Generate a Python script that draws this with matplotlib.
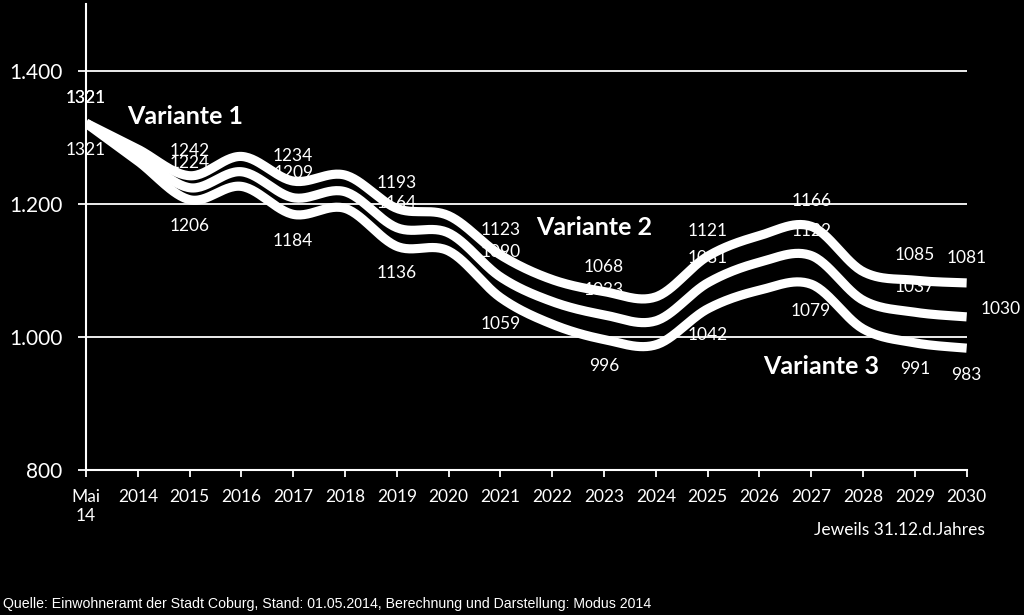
import numpy as np
import matplotlib
matplotlib.use("Agg")
import matplotlib.pyplot as plt
from matplotlib.ticker import FuncFormatter

# ── DATA ──────────────────────────────────────────────────────────────────────
YEARS = ['Mai\n14', '2014', '2015', '2016', '2017', '2018', '2019', '2020', '2021',
         '2022', '2023', '2024', '2025', '2026', '2027', '2028', '2029', '2030']

# Einwohner (even years estimated from the curve)
VARIANTE_1 = [1321, 1282, 1242, 1271, 1234, 1243, 1193, 1182, 1123,
              1086, 1068, 1060, 1121, 1152, 1166, 1098, 1085, 1081]
VARIANTE_2 = [1321, 1273, 1224, 1248, 1209, 1218, 1164, 1156, 1090,
              1053, 1033, 1024, 1081, 1112, 1122, 1055, 1037, 1030]
VARIANTE_3 = [1321, 1264, 1206, 1226, 1184, 1193, 1136, 1129, 1059,
              1019, 996, 988, 1042, 1070, 1079, 1012, 991, 983]

# Which points get a value label
LABEL_IDX = [0, 2, 4, 6, 8, 10, 12, 14, 16, 17]

SOURCE = ('Quelle: Einwohneramt der Stadt Coburg, Stand: 01.05.2014, '
          'Berechnung und Darstellung: Modus 2014')

FONT = ['Lato', 'DejaVu Sans']


def smooth(y, n=30):
    # Excel-like smoothed line (Catmull-Rom as cubic Bezier)
    y = np.asarray(y, float)
    x = np.arange(len(y), dtype=float)
    xs, ys = [], []
    for i in range(len(y) - 1):
        a = max(i - 1, 0)
        b = min(i + 2, len(y) - 1)
        p0 = np.array([x[i], y[i]])
        p3 = np.array([x[i + 1], y[i + 1]])
        c1 = p0 + (p3 - np.array([x[a], y[a]])) / 6
        c2 = p3 - (np.array([x[b], y[b]]) - p0) / 6
        t = np.linspace(0, 1, n)[:, None]
        seg = ((1 - t) ** 3) * p0 + 3 * ((1 - t) ** 2) * t * c1 \
            + 3 * (1 - t) * t ** 2 * c2 + t ** 3 * p3
        xs.append(seg[:, 0])
        ys.append(seg[:, 1])
    return np.concatenate(xs), np.concatenate(ys)


plt.rcParams['font.family'] = FONT

fig = plt.figure(figsize=(10.24, 6.15), dpi=100, facecolor='black')
ax = fig.add_axes([0.084, 0.2358, 0.860, 0.7577], facecolor='black')

x = np.arange(len(YEARS))

# ── LINES ─────────────────────────────────────────────────────────────────────
for values in (VARIANTE_1, VARIANTE_2, VARIANTE_3):
    sx, sy = smooth(values)
    ax.plot(sx, sy, color='white', lw=6.6, solid_capstyle='butt', zorder=4)

# ── VALUE LABELS ──────────────────────────────────────────────────────────────
for i in LABEL_IDX:
    ax.annotate(str(VARIANTE_1[i]), (x[i], VARIANTE_1[i]), xytext=(0, 18),
                textcoords='offset points', ha='center', va='center',
                color='white', fontsize=12.5, zorder=3, annotation_clip=False)
    if i == len(YEARS) - 1:
        off = (10, 6)
        ha = 'left'
    else:
        off = (0, 18)
        ha = 'center'
    ax.annotate(str(VARIANTE_2[i]), (x[i], VARIANTE_2[i]), xytext=off,
                textcoords='offset points', ha=ha, va='center',
                color='white', fontsize=12.5, zorder=3, annotation_clip=False)
    ax.annotate(str(VARIANTE_3[i]), (x[i], VARIANTE_3[i]), xytext=(0, -19),
                textcoords='offset points', ha='center', va='center',
                color='white', fontsize=12.5, zorder=3, annotation_clip=False)

# series names
ax.text(1.92, 1331, 'Variante 1', color='white', fontsize=18,
        fontweight='bold', ha='center', va='center', zorder=5)
ax.text(9.8, 1165, 'Variante 2', color='white', fontsize=18,
        fontweight='bold', ha='center', va='center', zorder=5)
ax.text(14.2, 956, 'Variante 3', color='white', fontsize=18,
        fontweight='bold', ha='center', va='center', zorder=5)

# ── AXES ──────────────────────────────────────────────────────────────────────
ax.set_xlim(0, len(YEARS) - 1)
ax.set_ylim(800, 1500)
ax.set_yticks([800, 1000, 1200, 1400])
ax.yaxis.set_major_formatter(
    FuncFormatter(lambda v, p: f'{int(v):,}'.replace(',', '.')))
ax.set_xticks(x)
ax.set_xticklabels(YEARS)

for v in (1000, 1200, 1400):
    ax.axhline(v, color='white', lw=1.3, zorder=2)

for side in ('top', 'right'):
    ax.spines[side].set_visible(False)
for side in ('left', 'bottom'):
    ax.spines[side].set_color('white')
    ax.spines[side].set_linewidth(1.5)

ax.tick_params(axis='x', colors='white', length=5, width=1.3,
               labelsize=12.5, pad=9)
ax.tick_params(axis='y', colors='white', length=6, width=1.3,
               labelsize=15, pad=11)

fig.text(0.962, 0.138, 'Jeweils 31.12.d.Jahres', color='white',
         fontsize=12.5, ha='right', va='center')
fig.text(0.003, 0.018, SOURCE, color='white', fontsize=10.2,
         family=['Liberation Sans', 'DejaVu Sans'], ha='left', va='center')

fig.savefig('out.png', dpi=100, facecolor='black')
